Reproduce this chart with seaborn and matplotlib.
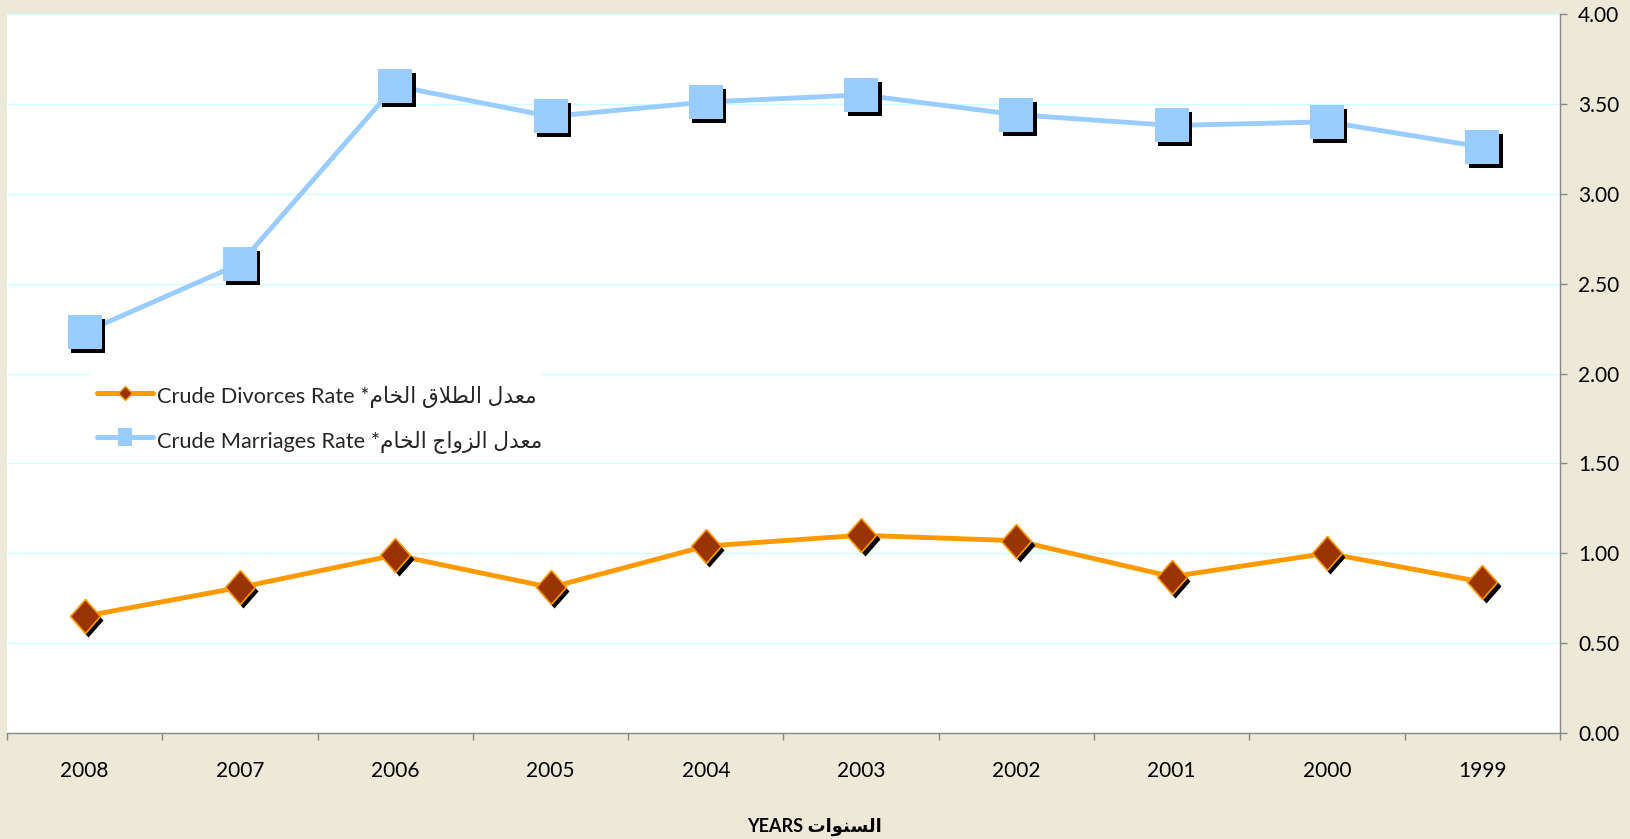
import numpy as np
import pandas as pd
import matplotlib
matplotlib.use("Agg")
import matplotlib.pyplot as plt
import matplotlib.transforms as mtransforms
from matplotlib.lines import Line2D
from matplotlib.patches import Rectangle
from matplotlib.ticker import FixedLocator, FormatStrFormatter
import seaborn as sns

# ---------------- data ----------------
years = ["2008", "2007", "2006", "2005", "2004", "2003", "2002", "2001", "2000", "1999"]
marriages = [2.23, 2.61, 3.60, 3.43, 3.51, 3.55, 3.44, 3.38, 3.40, 3.26]
divorces = [0.65, 0.81, 0.99, 0.81, 1.04, 1.10, 1.07, 0.87, 1.00, 0.84]
y_ticks = [0.0, 0.5, 1.0, 1.5, 2.0, 2.5, 3.0, 3.5, 4.0]

label_div_en = "Crude Divorces Rate"
label_div_ar = "معدل الطلاق الخام*"
label_mar_en = "Crude Marriages Rate"
label_mar_ar = "معدل الزواج الخام*"
xlabel_en = "YEARS"
xlabel_ar = "السنوات"

# ------------- Arabic shaping (presentation forms + RTL order) -------------
_FORMS = {
    'ا': ('\uFE8D', '\uFE8E', None, None),
    'ت': ('\uFE95', '\uFE96', '\uFE97', '\uFE98'),
    'ج': ('\uFE9D', '\uFE9E', '\uFE9F', '\uFEA0'),
    'خ': ('\uFEA5', '\uFEA6', '\uFEA7', '\uFEA8'),
    'د': ('\uFEA9', '\uFEAA', None, None),
    'ز': ('\uFEAF', '\uFEB0', None, None),
    'س': ('\uFEB1', '\uFEB2', '\uFEB3', '\uFEB4'),
    'ط': ('\uFEC1', '\uFEC2', '\uFEC3', '\uFEC4'),
    'ع': ('\uFEC9', '\uFECA', '\uFECB', '\uFECC'),
    'ق': ('\uFED5', '\uFED6', '\uFED7', '\uFED8'),
    'ل': ('\uFEDD', '\uFEDE', '\uFEDF', '\uFEE0'),
    'م': ('\uFEE1', '\uFEE2', '\uFEE3', '\uFEE4'),
    'ن': ('\uFEE5', '\uFEE6', '\uFEE7', '\uFEE8'),
    'و': ('\uFEED', '\uFEEE', None, None),
}


def _dual(c):
    return c in _FORMS and _FORMS[c][2] is not None


def rtl(text):
    chars = list(text)
    n = len(chars)
    out = []
    i = 0
    while i < n:
        c = chars[i]
        if c not in _FORMS:
            out.append(c)
            i += 1
            continue
        prev_join = i > 0 and _dual(chars[i - 1])
        if c == 'ل' and i + 1 < n and chars[i + 1] == 'ا':
            out.append('\uFEFC' if prev_join else '\uFEFB')
            i += 2
            continue
        next_join = _dual(c) and i + 1 < n and chars[i + 1] in _FORMS
        iso, fin, ini, med = _FORMS[c]
        if prev_join and next_join:
            g = med
        elif prev_join:
            g = fin
        elif next_join:
            g = ini
        else:
            g = iso
        out.append(g)
        i += 1
    return ''.join(out)[::-1]


# ---------------- style ----------------
BG = '#ECE9D8'
BLUE = '#99CCFF'
ORANGE = '#FF9900'
BROWN = '#993300'
GRID = '#CCFFFF'
AXC = '#888888'

sns.set_theme(style="white")
plt.rcParams['font.family'] = ['Lato', 'DejaVu Sans']

W, H = 1631, 839
fig = plt.figure(figsize=(W / 100, H / 100), dpi=100, facecolor=BG)
ax = fig.add_axes([7 / W, 106 / H, (1560 - 7) / W, (733 - 14) / H])
ax.set_facecolor('white')

diam_marker = [(0, 1), (0.88, 0), (0, -1), (-0.88, 0), (0, 1)]
SQ = 23.8
DM = 24.5

df_m = pd.DataFrame({"year": years, "rate": marriages})
df_d = pd.DataFrame({"year": years, "rate": divorces})

shadow = ax.transData + mtransforms.ScaledTranslation(3.4 / 100, -4 / 100, fig.dpi_scale_trans)

# lines
sns.lineplot(data=df_m, x="year", y="rate", ax=ax, color=BLUE, lw=3.5,
             sort=False, errorbar=None, legend=False, zorder=3)
sns.lineplot(data=df_d, x="year", y="rate", ax=ax, color=ORANGE, lw=3.5,
             sort=False, errorbar=None, legend=False, zorder=3)
# marker shadows
ax.plot(df_m["year"], df_m["rate"], ls='none', marker='s', ms=SQ,
        mfc='black', mec='black', mew=0, transform=shadow, zorder=4)
ax.plot(df_d["year"], df_d["rate"], ls='none', marker=diam_marker, ms=DM,
        mfc='black', mec='black', mew=0, transform=shadow, zorder=4)
# markers
sns.scatterplot(data=df_m, x="year", y="rate", ax=ax, marker='s', s=SQ ** 2,
                color=BLUE, edgecolor=BLUE, linewidth=0, legend=False, zorder=5)
sns.scatterplot(data=df_d, x="year", y="rate", ax=ax, marker=diam_marker, s=DM ** 2,
                color=BROWN, edgecolor=ORANGE, linewidth=1.2, legend=False, zorder=5)

# axes
ax.set_xlim(-0.5, len(years) - 0.5)
ax.set_ylim(0, 4)
ax.yaxis.tick_right()
ax.yaxis.set_label_position("right")
ax.set_yticks(y_ticks)
ax.yaxis.set_major_formatter(FormatStrFormatter('%.2f'))
ax.set_ylabel("")
ax.grid(axis='y', color=GRID, lw=1.0)
ax.grid(axis='x', visible=False)
ax.set_axisbelow(True)

for s in ['left', 'top']:
    ax.spines[s].set_visible(False)
for s in ['right', 'bottom']:
    ax.spines[s].set_color(AXC)
    ax.spines[s].set_linewidth(1.0)

ax.xaxis.set_minor_locator(FixedLocator(np.arange(-0.5, len(years), 1.0)))
ax.tick_params(axis='x', which='major', length=0, pad=20, labelsize=15, colors='black')
ax.tick_params(axis='x', which='minor', length=5, width=1, color=AXC, direction='out', bottom=True)
ax.tick_params(axis='y', which='major', length=5, width=1, color=AXC, direction='out',
               right=True, left=False, pad=8, labelsize=15, labelcolor='black')

ax.set_xlabel(xlabel_en + " " + rtl(xlabel_ar), fontsize=13, fontweight='bold', color='black')
ax.xaxis.set_label_coords((815 - 7) / 1553, -(827 - 733) / 719)
ax.xaxis.label.set_va('center')

# legend background (white box hiding the gridline behind the legend)
legend_bg = Rectangle((91 / W, 1 - 457 / H), (541 - 91) / W, (457 - 368) / H,
                      transform=fig.transFigure, facecolor='white', edgecolor='none',
                      zorder=2, clip_on=False)
ax.add_patch(legend_bg)

# legend
h_div = Line2D([], [], color=ORANGE, lw=3.6, marker='D', ms=7.5, mfc=BROWN, mec=ORANGE, mew=1)
h_mar = Line2D([], [], color=BLUE, lw=3.6, marker=[(-0.85, -1), (0.85, -1), (0.85, 1), (-0.85, 1)],
               ms=12.5, mfc=BLUE, mec=BLUE, mew=0)
leg = ax.legend([h_div, h_mar],
                [label_div_en + " " + rtl(label_div_ar), label_mar_en + " " + rtl(label_mar_ar)],
                loc='upper left', bbox_to_anchor=(85 / W, 1 - 371 / H), bbox_transform=fig.transFigure,
                borderaxespad=0, frameon=False,
                fontsize=15.7, handlelength=2.6, handletextpad=0.15,
                handleheight=1.5, labelspacing=0.78, borderpad=0.54)
leg.set_zorder(6)

fig.savefig("out.png", dpi=100, facecolor=BG)
